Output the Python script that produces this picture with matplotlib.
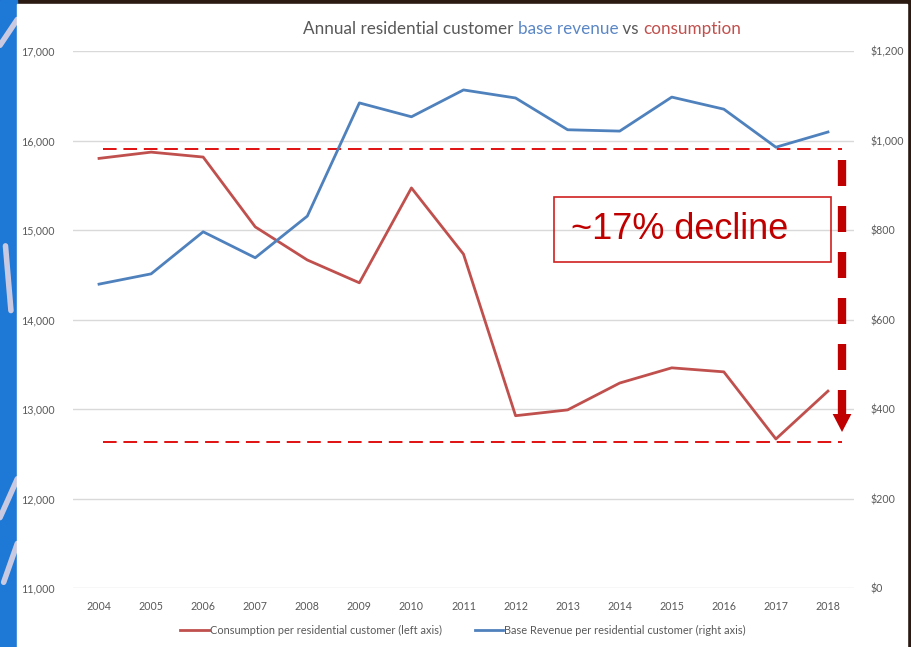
import matplotlib
matplotlib.use("Agg")
import matplotlib.pyplot as plt
import matplotlib.patches as mpatches
import numpy as np
from matplotlib.ticker import FuncFormatter

years = ['2004', '2005', '2006', '2007', '2008', '2009', '2010', '2011',
         '2012', '2013', '2014', '2015', '2016', '2017', '2018']
# consumption per residential customer (left axis)
consumption = [15800, 15870, 15815, 15035, 14665, 14410, 15470, 14730,
               12925, 12990, 13290, 13460, 13415, 12665, 13200]
# base revenue per residential customer, dollars (right axis)
revenue = [679, 702, 796, 738, 831, 1084, 1053, 1113,
           1095, 1024, 1021, 1097, 1070, 985, 1019]
# dashed reference levels, top and bottom of the decline
ref_high = 15910
ref_low = 12630

RED = '#c0504d'
BLUE = '#4f81bd'
GREY = '#595959'
ANNO = '#c00000'

plt.rcParams['font.family'] = ['Lato', 'DejaVu Sans']

fig = plt.figure(figsize=(9.12, 6.47), dpi=100)
fig.patch.set_facecolor('#2a1a12')

# slide background around the white chart panel
fig.add_artist(mpatches.Rectangle((0, 0), 17 / 912, 1, transform=fig.transFigure,
                                  color='#1e78d6', zorder=0))
strokes = [([0.0, 0.019], [0.93, 0.97]), ([0.006, 0.012], [0.62, 0.52]),
           ([0.0, 0.019], [0.20, 0.26]), ([0.004, 0.019], [0.10, 0.16])]
for sx, sy in strokes:
    fig.add_artist(plt.Line2D(sx, sy, transform=fig.transFigure, color='#ddd3e3',
                              lw=4, alpha=0.9, solid_capstyle='round', zorder=0.5))
fig.add_artist(mpatches.Rectangle((17 / 912, 0), (907 - 17) / 912, 1 - 4 / 647,
                                  transform=fig.transFigure, color='white', zorder=1))

ax = fig.add_axes([73 / 912, 1 - 588 / 647, (854 - 73) / 912, (588 - 51) / 647])
ax.set_zorder(2)
ax.patch.set_visible(False)
ax2 = ax.twinx()

x = np.arange(len(years))
l1, = ax.plot(x, consumption, color=RED, lw=2.0,
              label='Consumption per residential customer (left axis)')
l2, = ax2.plot(x, revenue, color=BLUE, lw=2.0,
               label='Base Revenue per residential customer (right axis)')

ax.set_xlim(-0.5, len(years) - 0.5)
ax.set_ylim(11000, 17000)
ax.set_yticks(np.arange(11000, 17001, 1000))
ax.yaxis.set_major_formatter(FuncFormatter(lambda v, p: '{:,.0f}'.format(v)))
ax2.set_ylim(0, 1200)
ax2.set_yticks(np.arange(0, 1201, 200))
ax2.yaxis.set_major_formatter(FuncFormatter(lambda v, p: '${:,.0f}'.format(v)))
ax.set_xticks(x)
ax.set_xticklabels(years)

ax.grid(axis='y', color='#d9d9d9', lw=1)
ax.set_axisbelow(True)
for a in (ax, ax2):
    for s in a.spines.values():
        s.set_visible(False)
    a.tick_params(length=0, labelsize=7.7, labelcolor=GREY)
ax.tick_params(axis='y', pad=13)
ax2.tick_params(axis='y', pad=12)
ax.tick_params(axis='x', pad=9)

# dashed lines marking the high and the low of consumption
ax.hlines([ref_high, ref_low], 0.08, 14.27, colors='#e01010', lw=1.4,
          linestyles=(0, (7, 3.5)), zorder=5)

# thick dashed arrow pointing down
arrow_x = 14.27
ax.plot([arrow_x, arrow_x], [15782, 12944], color=ANNO, lw=6, dashes=(3.12, 2.4),
        dash_capstyle='butt', zorder=6)
ax.fill([arrow_x - 0.18, arrow_x + 0.18, arrow_x], [12944, 12944, 12743],
        color=ANNO, lw=0, zorder=6)

# text box
fig.text(571 / 912, 1 - 229.5 / 647, '~17% decline',
         fontsize=26, color=ANNO, family='Liberation Sans', ha='left', va='center',
         zorder=10)
fig.add_artist(mpatches.Rectangle((554 / 912, 1 - 262 / 647), (831 - 554) / 912, 65 / 647,
                                  transform=fig.transFigure, fill=False,
                                  edgecolor='#d02020', lw=1.2, zorder=10))

# multicolour title, one piece after another
pieces = [('Annual residential customer ', GREY), ('base revenue', '#5b87c5'),
          (' vs ', GREY), ('consumption', RED)]
fig.canvas.draw()
renderer = fig.canvas.get_renderer()
x0 = 303 / 912
for txt, col in pieces:
    t = fig.text(x0, 1 - 29 / 647, txt, color=col, fontsize=12.3,
                 va='center', ha='left', zorder=10)
    x0 = t.get_window_extent(renderer).x1 / fig.bbox.width

fig.legend(handles=[l1, l2], loc='center', ncol=2,
           bbox_to_anchor=(463 / 912, 1 - 630 / 647), frameon=False,
           fontsize=7.9, labelcolor=GREY, handlelength=2.6, handletextpad=0.1,
           columnspacing=3.0)

fig.savefig('out.png', dpi=100, facecolor=fig.get_facecolor())
